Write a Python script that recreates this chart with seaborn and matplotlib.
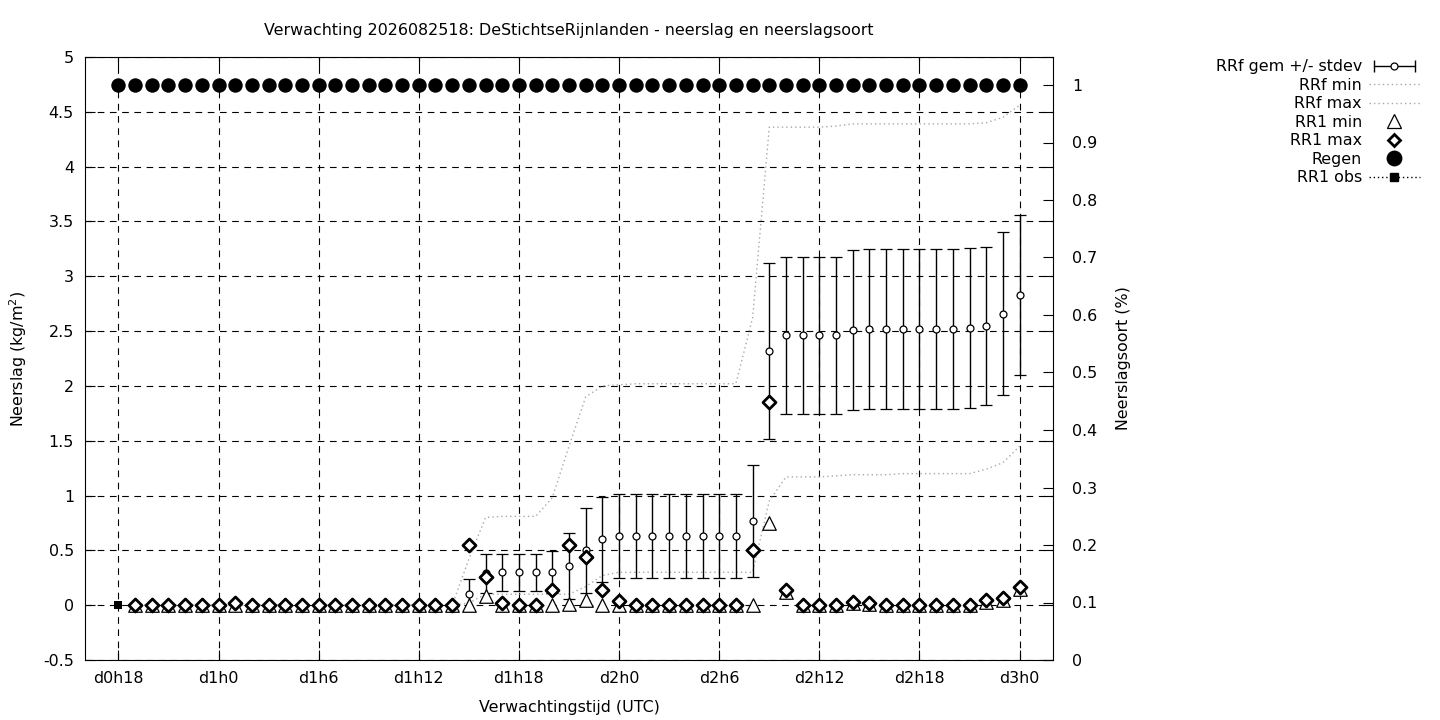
import numpy as np
import pandas as pd
import matplotlib
matplotlib.use('Agg')
import matplotlib.pyplot as plt
import seaborn as sns
from matplotlib.lines import Line2D
from matplotlib.legend_handler import HandlerLine2D, HandlerTuple
from matplotlib.ticker import FuncFormatter, MultipleLocator

# uren sinds d0h0 (d0h18 .. d3h0)
UREN_OBS = [18]
UREN = list(range(19, 73))
UREN_REGEN = list(range(18, 73))
TICK_UREN = [18, 24, 30, 36, 42, 48, 54, 60, 66, 72]
TICK_LABELS = ['d0h18', 'd1h0', 'd1h6', 'd1h12', 'd1h18', 'd2h0', 'd2h6', 'd2h12', 'd2h18', 'd3h0']

# RRf gemiddelde en stdev (h19 .. h72)
rrf_gem = [0.00, 0.00, 0.00, 0.00, 0.00, 0.00, 0.00, 0.00, 0.00, 0.00,
           0.00, 0.00, 0.00, 0.00, 0.00, 0.00, 0.00, 0.00, 0.00, 0.00,
           0.10, 0.29, 0.30, 0.30, 0.30, 0.30, 0.36, 0.50, 0.60, 0.63,
           0.63, 0.63, 0.63, 0.63, 0.63, 0.63, 0.63, 0.77, 2.32, 2.46,
           2.46, 2.46, 2.46, 2.51, 2.52, 2.52, 2.52, 2.52, 2.52, 2.52,
           2.53, 2.55, 2.66, 2.83]
rrf_std = [0.00, 0.00, 0.00, 0.00, 0.00, 0.00, 0.00, 0.00, 0.00, 0.00,
           0.00, 0.00, 0.00, 0.00, 0.00, 0.00, 0.00, 0.00, 0.00, 0.00,
           0.14, 0.18, 0.17, 0.17, 0.17, 0.19, 0.30, 0.39, 0.39, 0.38,
           0.38, 0.38, 0.38, 0.38, 0.38, 0.38, 0.38, 0.51, 0.80, 0.72,
           0.72, 0.72, 0.72, 0.73, 0.73, 0.73, 0.73, 0.73, 0.73, 0.73,
           0.73, 0.72, 0.74, 0.73]
rrf_min = [0.00, 0.00, 0.00, 0.00, 0.00, 0.00, 0.00, 0.00, 0.00, 0.00,
           0.00, 0.00, 0.00, 0.00, 0.00, 0.00, 0.00, 0.00, 0.00, 0.00,
           0.02, 0.10, 0.10, 0.10, 0.10, 0.10, 0.10, 0.17, 0.27, 0.30,
           0.30, 0.30, 0.30, 0.30, 0.30, 0.30, 0.30, 0.30, 0.95, 1.17,
           1.17, 1.17, 1.18, 1.19, 1.19, 1.19, 1.20, 1.20, 1.20, 1.20,
           1.20, 1.24, 1.30, 1.45]
rrf_max = [0.00, 0.00, 0.00, 0.00, 0.00, 0.00, 0.00, 0.00, 0.00, 0.00,
           0.00, 0.00, 0.00, 0.00, 0.00, 0.00, 0.00, 0.00, 0.00, 0.00,
           0.42, 0.80, 0.81, 0.81, 0.81, 0.98, 1.45, 1.90, 2.00, 2.01,
           2.02, 2.02, 2.02, 2.02, 2.02, 2.02, 2.02, 2.62, 4.36, 4.36,
           4.36, 4.36, 4.37, 4.39, 4.39, 4.39, 4.39, 4.39, 4.39, 4.39,
           4.39, 4.40, 4.45, 4.56]
rr1_min = [0.00, 0.00, 0.00, 0.00, 0.00, 0.00, 0.00, 0.00, 0.00, 0.00,
           0.00, 0.00, 0.00, 0.00, 0.00, 0.00, 0.00, 0.00, 0.00, 0.00,
           0.00, 0.08, 0.00, 0.00, 0.00, 0.00, 0.01, 0.05, 0.00, 0.00,
           0.00, 0.00, 0.00, 0.00, 0.00, 0.00, 0.00, 0.00, 0.75, 0.12,
           0.00, 0.00, 0.00, 0.02, 0.01, 0.00, 0.00, 0.00, 0.00, 0.00,
           0.00, 0.03, 0.05, 0.15]
rr1_max = [0.00, 0.00, 0.00, 0.00, 0.00, 0.00, 0.02, 0.00, 0.00, 0.00,
           0.00, 0.00, 0.00, 0.00, 0.00, 0.00, 0.00, 0.00, 0.00, 0.00,
           0.55, 0.26, 0.02, 0.00, 0.00, 0.14, 0.55, 0.44, 0.14, 0.04,
           0.00, 0.00, 0.00, 0.00, 0.00, 0.00, 0.00, 0.50, 1.85, 0.14,
           0.00, 0.00, 0.00, 0.03, 0.02, 0.00, 0.00, 0.00, 0.00, 0.00,
           0.00, 0.05, 0.07, 0.17]
# neerslagsoort regen (rechter as), h18 .. h72
regen = [1.0] * 55
rr1_obs = [0.0]

TITEL = 'Verwachting 2026082518: DeStichtseRijnlanden - neerslag en neerslagsoort'
GRIJS = '#a8a8a8'
FS = 11.4

sns.set_theme(style='white')
plt.rcParams['font.family'] = ['DejaVu Sans']
plt.rcParams['text.color'] = 'black'
plt.rcParams['axes.edgecolor'] = 'black'
plt.rcParams['axes.linewidth'] = 0.8

df = pd.DataFrame({'uur': UREN, 'gem': rrf_gem, 'std': rrf_std,
                   'min': rrf_min, 'max': rrf_max,
                   'rr1min': rr1_min, 'rr1max': rr1_max})
df_regen = pd.DataFrame({'uur': UREN_REGEN, 'regen': regen})
df_obs = pd.DataFrame({'uur': UREN_OBS, 'obs': rr1_obs})

fig = plt.figure(figsize=(14.4, 7.2), dpi=100)
ax = fig.add_axes([85 / 1440, 60 / 720, 968 / 1440, 603 / 720])
ax2 = ax.twinx()

# RRf gem +/- stdev
ax.errorbar(df['uur'], df['gem'], yerr=df['std'], fmt='o', ms=5,
            mfc='white', mec='black', mew=0.9, ecolor='black',
            elinewidth=1.0, capsize=4.5, capthick=1.0, zorder=3)

# RRf min / max
sns.lineplot(data=df, x='uur', y='min', ax=ax, color=GRIJS, lw=1,
             linestyle=(0, (1, 2.2)), zorder=2)
sns.lineplot(data=df, x='uur', y='max', ax=ax, color=GRIJS, lw=1,
             linestyle=(0, (1, 2.2)), zorder=2)

# RR1 min / max
sns.scatterplot(data=df, x='uur', y='rr1min', ax=ax, marker='^', s=95,
                facecolor='white', edgecolor='black', linewidth=0.9, zorder=4)
sns.scatterplot(data=df, x='uur', y='rr1max', ax=ax, marker='D', s=44,
                facecolor='white', edgecolor='black', linewidth=2.0, zorder=5)

# RR1 obs
sns.scatterplot(data=df_obs, x='uur', y='obs', ax=ax, marker='s', s=36,
                color='black', linewidth=0, zorder=6)

# Regen op rechter as
sns.scatterplot(data=df_regen, x='uur', y='regen', ax=ax2, marker='o', s=108,
                color='black', linewidth=0, zorder=6)

# assen
ax.set_xlim(16, 74)
ax.set_ylim(-0.5, 5)
ax2.set_ylim(0, 603 / 575)
ax.set_xticks(TICK_UREN)
ax.set_xticklabels(TICK_LABELS)
ax.yaxis.set_major_locator(MultipleLocator(0.5))
ax2.yaxis.set_major_locator(MultipleLocator(0.1))
fmt = FuncFormatter(lambda v, p: '%g' % round(v, 2))
ax.yaxis.set_major_formatter(fmt)
ax2.yaxis.set_major_formatter(fmt)

ax.tick_params(axis='both', direction='in', length=7, width=0.8,
               labelsize=FS, pad=8, colors='black', top=True, right=True,
               bottom=True, left=True)
ax2.tick_params(axis='y', direction='in', length=7, width=0.8,
                labelsize=FS, pad=14, colors='black', left=False)

ax.grid(True, color='black', lw=0.8, linestyle=(0, (6, 5)))
ax.set_axisbelow(True)
for sp in ax2.spines.values():
    sp.set_visible(False)

ax.set_xlabel('Verwachtingstijd (UTC)', fontsize=FS, labelpad=10, color='black')
ax.set_ylabel('Neerslag (kg/m$^2$)', fontsize=FS, labelpad=10, color='black')
ax2.set_ylabel('Neerslagsoort (%)', fontsize=FS, labelpad=13, color='black')
ax.set_title(TITEL, fontsize=FS, pad=16, color='black')

# legenda
caps = Line2D([], [], color='black', lw=1, marker='|', ms=9, mew=1)
cirkel = Line2D([], [], ls='none', marker='o', ms=5, mfc='white', mec='black', mew=0.9)
h_gem = (caps, cirkel)
h_min = Line2D([], [], color=GRIJS, lw=1, linestyle=(0, (1, 2.2)))
h_max = Line2D([], [], color=GRIJS, lw=1, linestyle=(0, (1, 2.2)))
h_rr1min = Line2D([], [], ls='none', marker='^', ms=9.5, mfc='white', mec='black', mew=0.9)
h_rr1max = Line2D([], [], ls='none', marker='D', ms=6.6, mfc='white', mec='black', mew=2.0)
h_regen = Line2D([], [], ls='none', marker='o', ms=10.4, color='black')
h_obs = Line2D([], [], color='black', lw=1, linestyle=(0, (1, 2)), marker='s', ms=6)

handles = [h_gem, h_min, h_max, h_rr1min, h_rr1max, h_regen, h_obs]
labels = ['RRf gem +/- stdev', 'RRf min', 'RRf max', 'RR1 min', 'RR1 max', 'Regen', 'RR1 obs']
leg = fig.legend(handles, labels, loc='upper right', bbox_to_anchor=(1426 / 1440, 1 - 53 / 720),
                 frameon=False, markerfirst=False, fontsize=FS, handlelength=3.2,
                 handletextpad=0.45, labelspacing=0.22, borderaxespad=0,
                 handler_map={caps: HandlerLine2D(numpoints=2),
                              cirkel: HandlerLine2D(numpoints=1),
                              h_gem: HandlerTuple(ndivide=1, pad=0)})
for t in leg.get_texts():
    t.set_color('black')

fig.savefig('out.png', dpi=100)
